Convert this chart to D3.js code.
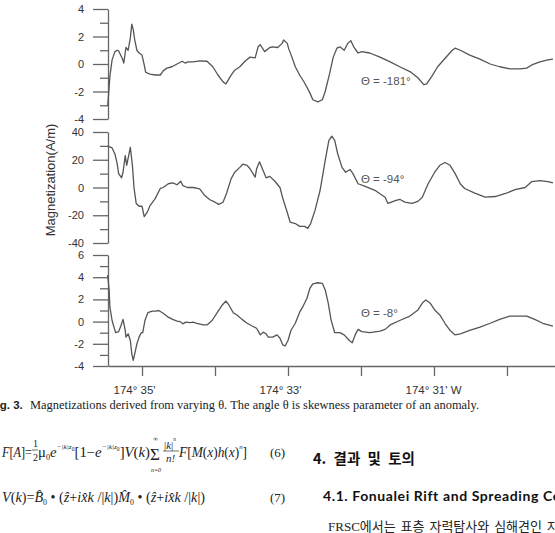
<!DOCTYPE html>
<html><head><meta charset="utf-8">
<script src="https://cdn.jsdelivr.net/npm/d3@7"></script>
<style>body{margin:0;background:#fff}svg{display:block}</style>
</head><body>
<svg id="c" width="555" height="533"></svg>
<script>
// ---------------- data ----------------
const lonTicks = [35, 34, 33, 32, 31, 30];              // minutes past 174°
const lonLabels = ["174° 35'", "", "174° 33'", "", "174° 31' W", ""];
const thetaLabels = ["Θ = -181°", "Θ = -94°", "Θ = -8°"];
const yTitle = "Magnetization(A/m)";

const ticks1 = [-4, -3, -2, -1, 0, 1, 2, 3, 4];
const labels1 = [-4, -2, 0, 2, 4];
const ticks2 = [-40, -30, -20, -10, 0, 10, 20, 30, 40];
const labels2 = [-40, -20, 0, 20, 40];
const ticks3 = [-4, -3, -2, -1, 0, 1, 2, 3, 4, 5, 6];
const labels3 = [-4, -2, 0, 2, 4, 6];

// [longitude minutes, magnetization]
const theta181 = [[35.47,-3.05],[35.44,-0.9],[35.41,0.3],[35.37,0.9],[35.34,1.0],[35.32,0.95],[35.27,0.4],[35.25,0.07],[35.22,1.2],[35.19,1.0],[35.16,1.9],[35.14,2.9],[35.12,2.5],[35.10,1.75],[35.07,1.0],[35.04,0.8],[35.00,0.65],[34.97,-0.07],[34.95,-0.6],[34.89,-0.73],[34.82,-0.8],[34.75,-0.8],[34.71,-0.5],[34.66,-0.3],[34.59,-0.2],[34.52,0],[34.45,0.2],[34.41,0.07],[34.37,0.15],[34.30,0.15],[34.21,0.22],[34.11,0.2],[34.03,-0.2],[33.96,-0.8],[33.89,-1.3],[33.85,-1.45],[33.79,-0.9],[33.73,-0.45],[33.66,-0.2],[33.59,0.2],[33.52,0.5],[33.45,0.45],[33.41,1.25],[33.38,1.4],[33.32,0.9],[33.25,1.2],[33.21,1.25],[33.14,1.2],[33.08,1.5],[33.06,1.75],[33.01,1.5],[32.99,1.1],[32.96,0.7],[32.90,-0.2],[32.84,-0.8],[32.77,-1.4],[32.70,-2.1],[32.66,-2.6],[32.59,-2.75],[32.53,-2.6],[32.49,-2.0],[32.43,-0.7],[32.38,0.5],[32.33,1.15],[32.29,1.25],[32.23,1.0],[32.18,1.5],[32.14,1.7],[32.10,1.25],[32.04,0.8],[31.99,0.9],[31.88,0.8],[31.74,0.5],[31.60,0.15],[31.47,-0.2],[31.33,-0.55],[31.22,-1.0],[31.14,-1.5],[31.10,-1.45],[31.03,-0.9],[30.95,-0.2],[30.85,0.4],[30.75,1.0],[30.71,1.15],[30.64,1.0],[30.51,0.65],[30.37,0.35],[30.23,0],[30.10,-0.2],[29.96,-0.35],[29.82,-0.35],[29.73,-0.3],[29.66,-0.07],[29.55,0.15],[29.44,0.3],[29.37,0.35]];

const theta94 = [[35.47,30],[35.45,29.5],[35.41,28.5],[35.37,24],[35.34,17],[35.32,10],[35.28,7],[35.26,11],[35.23,23],[35.21,16],[35.16,29],[35.13,15],[35.11,0],[35.08,-11.5],[35.04,-13.5],[35.00,-13.5],[34.97,-21],[34.93,-18],[34.89,-13],[34.82,-8],[34.75,-0.7],[34.71,0],[34.64,2.7],[34.58,3.4],[34.52,2],[34.47,4.5],[34.44,1.4],[34.38,0],[34.30,0],[34.21,-1],[34.14,-5.8],[34.07,-8.8],[34.00,-10.6],[33.95,-12.2],[33.89,-10.6],[33.84,-4],[33.78,6.2],[33.73,11],[33.66,14.5],[33.62,16.8],[33.56,16],[33.52,13.5],[33.45,7.5],[33.43,13.5],[33.39,18.5],[33.34,12],[33.30,7],[33.25,8],[33.18,4.5],[33.11,0],[33.07,-8],[33.01,-18],[32.97,-25],[32.90,-26],[32.84,-28],[32.77,-28],[32.73,-29.5],[32.69,-26],[32.63,-16.5],[32.56,-2],[32.49,19.5],[32.44,34],[32.40,37],[32.36,34],[32.32,24.5],[32.26,14.5],[32.21,11],[32.15,13],[32.11,10],[32.04,2.7],[31.95,1],[31.81,-2],[31.67,-7],[31.63,-11.5],[31.53,-9.5],[31.47,-8.5],[31.40,-10.5],[31.30,-11.5],[31.22,-10],[31.16,-7],[31.08,2.7],[30.99,11],[30.92,16],[30.85,18],[30.78,16],[30.71,10],[30.64,2.7],[30.58,-0.7],[30.44,-4],[30.30,-7],[30.16,-6.5],[30.03,-4.5],[29.89,-1.6],[29.75,0],[29.66,4.3],[29.55,5],[29.44,4.3],[29.37,3.4]];

const theta8 = [[35.47,4.2],[35.45,2.8],[35.44,1.3],[35.41,0.1],[35.38,-0.6],[35.36,-1.0],[35.32,-0.9],[35.29,-0.4],[35.26,0.2],[35.23,-0.8],[35.22,-1.4],[35.19,-1.1],[35.16,-1.7],[35.14,-2.9],[35.12,-3.5],[35.10,-2.9],[35.07,-2.0],[35.04,-1.4],[35.01,-1.0],[34.99,-1.0],[34.96,0.1],[34.92,0.8],[34.86,0.95],[34.81,0.95],[34.77,1.0],[34.71,0.75],[34.64,0.4],[34.58,0.2],[34.52,0.05],[34.48,0],[34.44,-0.2],[34.40,-0.05],[34.34,-0.1],[34.30,-0.05],[34.25,-0.15],[34.16,-0.3],[34.11,-0.3],[34.04,0.1],[33.97,0.8],[33.90,1.5],[33.85,1.85],[33.81,1.5],[33.75,0.8],[33.70,0.6],[33.63,0.2],[33.56,-0.15],[33.49,-0.4],[33.43,-0.6],[33.38,-1.2],[33.34,-0.95],[33.30,-1.1],[33.27,-1.4],[33.21,-1.4],[33.15,-1.2],[33.11,-1.5],[33.07,-2.1],[33.04,-2.2],[33.00,-1.7],[32.96,-0.8],[32.90,-0.15],[32.84,0.85],[32.80,1.3],[32.74,2.1],[32.70,3.0],[32.66,3.4],[32.59,3.5],[32.53,3.45],[32.49,2.85],[32.45,1.7],[32.41,0.15],[32.36,-1.0],[32.29,-1.0],[32.23,-1.2],[32.16,-1.7],[32.12,-1.9],[32.08,-1.2],[32.04,-0.7],[31.99,-0.9],[31.88,-1.0],[31.74,-0.85],[31.67,-0.7],[31.60,-0.3],[31.47,0.1],[31.33,0.5],[31.22,1.05],[31.15,1.75],[31.11,1.95],[31.05,1.65],[30.99,1.05],[30.92,0.6],[30.85,-0.15],[30.78,-0.8],[30.71,-1.2],[30.64,-1.1],[30.51,-0.8],[30.37,-0.5],[30.23,-0.15],[30.10,0.2],[29.96,0.5],[29.82,0.5],[29.73,0.5],[29.62,0.2],[29.51,-0.15],[29.37,-0.4]];

// ---------------- layout ----------------
const svg = d3.select("#c");
const AX = 108;
const x = d3.scaleLinear().domain([35.466, 29.342]).range([AX, 555]);
const panels = [
  {data: theta181, ticks: ticks1, labels: labels1, dom: [-4, 4], rng: [119, 9], lab: thetaLabels[0], lx: 32.0, ly: -1.55},
  {data: theta94, ticks: ticks2, labels: labels2, dom: [-40, 40], rng: [243, 132], lab: thetaLabels[1], lx: 32.0, ly: 3.6},
  {data: theta8, ticks: ticks3, labels: labels3, dom: [-4, 6], rng: [366, 255], lab: thetaLabels[2], lx: 32.0, ly: 0.4}
];
const sans = "'Liberation Sans', Arial, sans-serif";
const serif = "'Liberation Serif', 'Times New Roman', serif";
const axisCol = "#666", lineCol = "#555", txtCol = "#333";

panels.forEach(p => {
  const y = d3.scaleLinear().domain(p.dom).range(p.rng);
  const g = svg.append("g").attr("transform", `translate(${AX},0)`);
  g.call(d3.axisLeft(y).tickValues(p.ticks).tickSize(15).tickSizeOuter(0).tickPadding(9)
      .tickFormat(d => p.labels.includes(d) ? String(d) : ""));
  g.select(".domain").attr("stroke", axisCol).attr("stroke-width", 1.3);
  g.selectAll(".tick line").attr("stroke", axisCol).attr("stroke-width", 1.3)
    .attr("x2", d => p.labels.includes(d) ? -15 : -8);
  g.selectAll(".tick text").attr("fill", txtCol).style("font-family", sans).style("font-size", "11px");

  svg.append("path").datum(p.data)
    .attr("fill", "none").attr("stroke", lineCol).attr("stroke-width", 1.3).attr("stroke-linejoin", "round")
    .attr("d", d3.line().x(d => x(d[0])).y(d => y(d[1])));

  svg.append("text").attr("x", x(p.lx)).attr("y", y(p.ly)).text(p.lab)
    .attr("fill", "#555").style("font-family", sans).style("font-size", "11.5px");
});

// x axis
const gx = svg.append("g").attr("transform", "translate(0,366)");
gx.call(d3.axisBottom(x).tickValues(lonTicks).tickSize(10).tickSizeOuter(0).tickPadding(10)
    .tickFormat((d, i) => lonLabels[i]));
gx.select(".domain").attr("stroke", axisCol).attr("stroke-width", 1.3);
gx.selectAll(".tick line").attr("stroke", axisCol).attr("stroke-width", 1.3);
gx.selectAll(".tick text").attr("fill", txtCol).attr("text-anchor", "start").attr("x", -29)
  .style("font-family", sans).style("font-size", "11.5px");

svg.append("text").attr("transform", "translate(55,180) rotate(-90)").attr("text-anchor", "middle")
  .text(yTitle).attr("fill", txtCol).style("font-family", sans).style("font-size", "13px");

// ---------------- caption & page text ----------------
function t(xp, yp, s, o = {}) {
  const e = svg.append("text").attr("x", xp).attr("y", yp).text(s)
    .attr("fill", o.fill || "#222")
    .style("font-family", o.ff || serif).style("font-size", (o.fs || 14) + "px");
  if (o.it) e.style("font-style", "italic");
  if (o.bold) e.style("font-weight", "bold");
  if (o.len) e.attr("textLength", o.len).attr("lengthAdjust", "spacingAndGlyphs");
  if (o.anchor) e.attr("text-anchor", o.anchor);
  if (o.ws) e.style("word-spacing", o.ws + "px");
  if (o.ls) e.style("letter-spacing", o.ls + "px");
  return e;
}
// rich text: segments [string, italic?, level]; level 0 base, 1 sup, -1 sub, 2 sup-sub
const lvOff = {0: 0, 1: -8, "-1": 2.5, 2: -6};
const lvSize = {0: 1, 1: 0.5, "-1": 0.55, 2: 0.38};
function rich(xp, yp, segs, fs, len) {
  const e = svg.append("text").attr("x", xp).attr("y", yp).attr("fill", "#222")
    .style("font-family", serif).style("font-size", fs + "px");
  if (len) e.attr("textLength", len).attr("lengthAdjust", "spacingAndGlyphs");
  let cur = 0;
  segs.forEach(([s, it, lv]) => {
    lv = lv || 0;
    const ts = e.append("tspan").text(s).attr("dy", lvOff[lv] - cur)
      .style("font-size", (fs * lvSize[lv]) + "px");
    if (it) ts.style("font-style", "italic");
    cur = lvOff[lv];
  });
  return e;
}

t(-10.5, 409, "Fig. 3.", {ff: sans, bold: true, fs: 11.5});
t(30, 409, "Magnetizations derived from varying θ. The angle θ is skewness parameter of an anomaly.", {fs: 12, len: 449});

// equation (6)
const B6 = 457;
rich(2, B6, [["F", 1], ["["], ["A", 1], ["]="]], 14, 30);
t(33, 447, "1", {fs: 10});
svg.append("line").attr("x1", 32).attr("x2", 38).attr("y1", 450).attr("y2", 450).attr("stroke", "#333").attr("stroke-width", 0.7);
t(33, 461, "2", {fs: 10});
rich(38, B6, [["μ"], ["0", 0, -1], ["e", 1], ["−|k|z", 1, 1], ["0", 0, 2], ["[1−"], ["e", 1], ["−|k|z", 1, 1], ["0", 0, 2], ["]"], ["V", 1], ["("], ["k", 1], [")"]], 14, 112);
t(150, B6 + 3, "Σ", {fs: 17});
t(153, 441, "∞", {fs: 7});
t(151, 472, "n=0", {it: true, fs: 6});
rich(164, 449, [["|"], ["k", 1], ["|"], ["n", 1, 1]], 11);
svg.append("line").attr("x1", 163).attr("x2", 179).attr("y1", 451).attr("y2", 451).attr("stroke", "#333").attr("stroke-width", 0.7);
t(166, 462, "n!", {it: true, fs: 11});
rich(179, B6, [["F", 1], ["["], ["M", 1], ["("], ["x", 1], [")"], ["h", 1], ["("], ["x", 1], [")"], ["n", 1, 1], ["]"]], 14, 68);
t(270, B6, "(6)", {fs: 13});

// equation (7)
const B7 = 502;
rich(2, B7, [["V", 1], ["("], ["k", 1], [")="], ["B\u0302", 1], ["0", 0, -1], [" • ("], ["z\u0302", 1], ["+"], ["i", 1], ["x\u0302", 1], ["k", 1], [" /|"], ["k", 1], ["|)"],
  ["M\u0302", 1], ["0", 0, -1], [" • ("], ["z\u0302", 1], ["+"], ["i", 1], ["x\u0302", 1], ["k", 1], [" /|"], ["k", 1], ["|)"]], 14, 203);
t(270, B7, "(7)", {fs: 13});

// right column
const kr = "'Noto Sans CJK KR', sans-serif";
t(313, 464, "4. 결과 및 토의", {ff: kr, bold: true, fs: 14.5, fill: "#111", ws: 4});
t(323, 501, "4.1. Fonualei Rift and Spreading Center", {ff: "Lato, 'Liberation Sans', sans-serif", bold: true, fs: 14, fill: "#111", ls: 0.6});
const tx = svg.append("text").attr("x", 328).attr("y", 531).attr("fill", "#222").style("font-size", "13px").style("word-spacing", "2px");
tx.append("tspan").text("FRSC").style("font-family", serif);
tx.append("tspan").text("에서는 표층 자력탐사와 심해견인 자력탐사가").style("font-family", kr);
</script>
</body></html>
